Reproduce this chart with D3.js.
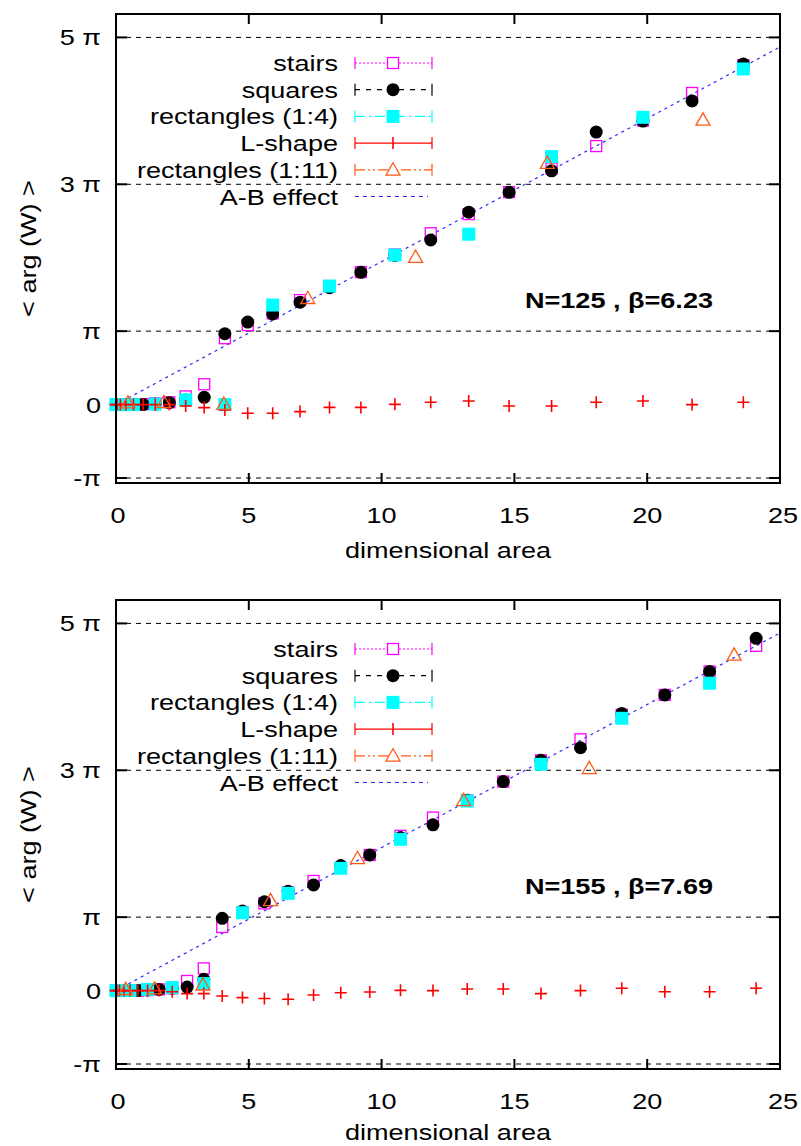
<!DOCTYPE html>
<html><head><meta charset="utf-8">
<script src="https://cdn.jsdelivr.net/npm/d3@7"></script>
<style>body{margin:0;background:#fff}</style>
</head><body>
<svg id="c" width="801" height="1146"></svg>
<script>
// ---------- data: panel 1 (N=125, beta=6.23) ----------
const p1_n_x = [0,0.041,0.164,0.369,0.656,1.025,1.476,2.009,2.624,3.321,4.10,4.96,5.90,6.93,8.04,9.22,10.50,11.85,13.28,14.80,16.40,18.08,19.84,21.69,23.62];
const p1_stairs = [0,0,0,0,0,0.02,0.05,0.10,0.35,0.87,2.84,3.40,3.90,4.47,5.07,5.67,6.42,7.33,8.15,9.09,10.10,11.06,12.15,13.33,14.52];
const p1_squares = [0,0,0,0,0,0,0.02,0.08,0.20,0.31,3.03,3.53,3.88,4.38,5.00,5.66,6.38,7.04,8.23,9.08,10.00,11.66,12.13,12.99,14.57];
const p1_rect4_x = [0,0.164,0.656,1.476,2.624,4.10,5.90,8.04,10.50,13.28,16.40,19.84,23.62];
const p1_rect4 = [0,0,0,0.02,0.20,0,4.26,5.07,6.40,7.29,10.61,12.29,14.36];
const p1_lshape = [0,0,0,0,0,0,0,0,-0.06,-0.13,-0.23,-0.37,-0.37,-0.30,-0.12,-0.12,0.01,0.10,0.15,-0.06,-0.06,0.10,0.15,0,0.10];
const p1_rect11_x = [0.451,1.804,4.06,7.22,11.28,16.24,22.10];
const p1_rect11 = [0.08,0.10,0.02,4.55,6.31,10.33,12.18];
const p1_label = "N=125 , β=6.23";

// ---------- data: panel 2 (N=155, beta=7.69) ----------
const p2_n_x = [0,0.033,0.132,0.298,0.529,0.827,1.19,1.62,2.116,2.678,3.306,4.00,4.761,5.587,6.48,7.439,8.463,9.554,10.711,11.934,13.224,14.58,16.00,17.488,19.043,20.663,22.349,24.101];
const p2_stairs = [0,0,0,0,0,0,0.02,0.05,0.10,0.41,0.95,2.72,3.35,3.73,4.20,4.69,5.25,5.80,6.62,7.40,8.14,8.94,9.85,10.75,11.80,12.65,13.65,14.75];
const p2_squares = [0,0,0,0,0,0,0.03,0.05,0.10,0.15,0.48,3.09,3.40,3.80,4.25,4.52,5.35,5.80,6.55,7.09,8.14,8.94,9.85,10.39,11.85,12.65,13.65,15.07];
const p2_rect4_x = [0,0.132,0.529,1.19,2.116,3.306,4.761,6.48,8.463,10.711,13.224,16.00,19.043,22.349];
const p2_rect4 = [0,0,0,0.05,0.13,0.30,3.33,4.16,5.23,6.47,8.11,9.68,11.65,13.15];
const p2_lshape = [0,0,0,0,0,0,0,0,-0.05,-0.13,-0.13,-0.23,-0.30,-0.34,-0.37,-0.19,-0.09,-0.06,0.01,0,0.07,0.07,-0.13,0,0.10,-0.05,-0.05,0.10];
const p2_rect11_x = [0.364,1.455,3.273,5.818,9.091,13.091,17.818,23.273];
const p2_rect11 = [0.05,0.08,0.25,3.86,5.66,8.14,9.51,14.36];
const p2_label = "N=155 , β=7.69";

// A-B effect slope (phase per unit area)
const abSlope = 0.612;

// axes / legend text
const xTicks = [0,5,10,15,20,25];
const yTickVals = [-Math.PI, 0, Math.PI, 3*Math.PI, 5*Math.PI];
const yTickLabels = ["-π","0","π","3 π","5 π"];
const yGridVals = [-Math.PI, Math.PI, 3*Math.PI, 5*Math.PI];
const legendNames = ["stairs","squares","rectangles (1:4)","L-shape","rectangles (1:11)","A-B effect"];
const xTitle = "dimensional  area";
const yTitle = "< arg (W) >";

const svg = d3.select("#c");
const FONT = "Liberation Sans, Arial, sans-serif";
const STRETCH = 1.23;
const col = {stairs:"#ff00ff", squares:"#000000", rect4:"#00ffff", lshape:"#ff0000", rect11:"#ff5a14", ab:"#2a2aff"};

const x = d3.scaleLinear().domain([0,25]).range([116,780]);
const y = d3.scaleLinear().domain([-3.355,16.71]).range([483,14]);

function zip(xs, ys){ return xs.map((v,i)=>[v, ys[i]]); }

// horizontally stretched text (reference glyphs are wide)
function txt(g, X, Y, str, anchor, opt={}){
  const t = g.append("g")
    .attr("transform", `translate(${X},${Y})${opt.rot?" rotate(-90)":""} scale(${STRETCH},1)`)
    .append("text").attr("x",0).attr("y",0).attr("text-anchor",anchor)
    .attr("font-family",FONT).attr("font-size",opt.size||22).text(str);
  if(opt.bold) t.attr("font-weight","bold");
  return t;
}

function drawPanel(offY, d){
  const g = svg.append("g").attr("transform", `translate(0,${offY})`);
  // grid
  g.selectAll(".grid").data(yGridVals).enter().append("line")
    .attr("x1", x(0)).attr("x2", x(25)).attr("y1", v=>y(v)).attr("y2", v=>y(v))
    .attr("stroke","#000").attr("stroke-width",1).attr("stroke-dasharray","5,5");
  // A-B line
  const ab = d3.line().x(p=>x(p[0])).y(p=>y(p[1]));
  g.append("path").attr("d", ab([[0,0],[25,25*abSlope]]))
    .attr("fill","none").attr("stroke",col.ab).attr("stroke-width",1.2).attr("stroke-dasharray","3,4");

  const S = 11;
  g.selectAll(".st").data(zip(d.nx, d.stairs)).enter().append("rect")
    .attr("x",p=>x(p[0])-S/2).attr("y",p=>y(p[1])-S/2).attr("width",S).attr("height",S)
    .attr("fill","none").attr("stroke",col.stairs).attr("stroke-width",1.3);
  g.selectAll(".sq").data(zip(d.nx, d.squares)).enter().append("circle")
    .attr("cx",p=>x(p[0])).attr("cy",p=>y(p[1])).attr("r",6.5).attr("fill",col.squares);
  const C = 13;
  g.selectAll(".r4").data(zip(d.r4x, d.r4)).enter().append("rect")
    .attr("x",p=>x(p[0])-C/2).attr("y",p=>y(p[1])-C/2).attr("width",C).attr("height",C)
    .attr("fill",col.rect4);
  const P = 6;
  g.selectAll(".lh").data(zip(d.nx, d.lshape)).enter().append("path")
    .attr("d",p=>`M${x(p[0])-P},${y(p[1])}H${x(p[0])+P}M${x(p[0])},${y(p[1])-P}V${y(p[1])+P}`)
    .attr("stroke",col.lshape).attr("stroke-width",1.6).attr("fill","none");
  const T = 7;
  g.selectAll(".r11").data(zip(d.r11x, d.r11)).enter().append("path")
    .attr("d",p=>{const cx=x(p[0]), cy=y(p[1]); return `M${cx},${cy-T}L${cx+T},${cy+T*0.75}L${cx-T},${cy+T*0.75}Z`;})
    .attr("fill","none").attr("stroke",col.rect11).attr("stroke-width",1.3);

  // frame
  g.append("rect").attr("x",x(0)).attr("y",y.range()[1]).attr("width",x(25)-x(0)).attr("height",y.range()[0]-y.range()[1])
    .attr("fill","none").attr("stroke","#000").attr("stroke-width",2);
  [5,10,15,20].forEach(v=>{
    g.append("line").attr("x1",x(v)).attr("x2",x(v)).attr("y1",y.range()[0]).attr("y2",y.range()[0]-10).attr("stroke","#000").attr("stroke-width",2);
    g.append("line").attr("x1",x(v)).attr("x2",x(v)).attr("y1",y.range()[1]).attr("y2",y.range()[1]+10).attr("stroke","#000").attr("stroke-width",2);
  });
  yGridVals.forEach(v=>{
    g.append("line").attr("x1",x(0)).attr("x2",x(0)+11).attr("y1",y(v)).attr("y2",y(v)).attr("stroke","#000").attr("stroke-width",2);
    g.append("line").attr("x1",x(25)).attr("x2",x(25)-11).attr("y1",y(v)).attr("y2",y(v)).attr("stroke","#000").attr("stroke-width",2);
  });
  // tick labels
  xTicks.forEach(v=> txt(g, x(v)+(v===0?2:(v===25?3:0)), y.range()[0]+40, String(v), "middle"));
  yTickVals.forEach((v,i)=> txt(g, 101, y(v)+8, yTickLabels[i], "end"));
  // axis titles
  txt(g, 448, y.range()[0]+d.xtOff, xTitle, "middle");
  txt(g, 36, (y.range()[0]+y.range()[1])/2, yTitle, "middle", {rot:true});
  // annotation
  txt(g, 713, 308, d.label, "end", {bold:true});

  // legend
  const ly0 = 63, ldy = 26.7, lx1 = 355, lx2 = 432, lxm = 393;
  const styles = [
    {c:col.stairs, dash:"2,2", m:"osq"},
    {c:col.squares, dash:"5,6", m:"circ"},
    {c:col.rect4, dash:"10,4,2,4", m:"fsq"},
    {c:col.lshape, dash:null, m:"plus"},
    {c:col.rect11, dash:"10,3,2,3,2,3", m:"tri"},
    {c:col.ab, dash:"4,4", m:null}
  ];
  legendNames.forEach((name,i)=>{
    const ly = ly0 + i*ldy;
    txt(g, 338, ly+8, name, "end");
    const s = styles[i];
    const line = g.append("line").attr("x1",lx1).attr("x2",s.m?lx2:428).attr("y1",ly).attr("y2",ly)
      .attr("stroke",s.c).attr("stroke-width",1.2);
    if(s.dash) line.attr("stroke-dasharray",s.dash);
    if(s.m){
      [lx1,lx2].forEach(xx=>g.append("line").attr("x1",xx).attr("x2",xx).attr("y1",ly-6).attr("y2",ly+6).attr("stroke",s.c).attr("stroke-width",1.2));
      if(s.m==="osq") g.append("rect").attr("x",lxm-S/2).attr("y",ly-S/2).attr("width",S).attr("height",S).attr("fill","#fff").attr("stroke",s.c).attr("stroke-width",1.3);
      if(s.m==="circ") g.append("circle").attr("cx",lxm).attr("cy",ly).attr("r",6.5).attr("fill",s.c);
      if(s.m==="fsq") g.append("rect").attr("x",lxm-C/2).attr("y",ly-C/2).attr("width",C).attr("height",C).attr("fill",s.c);
      if(s.m==="plus") g.append("path").attr("d",`M${lxm},${ly-P}V${ly+P}`).attr("stroke",s.c).attr("stroke-width",1.6);
      if(s.m==="tri") g.append("path").attr("d",`M${lxm},${ly-T}L${lxm+T},${ly+T*0.75}L${lxm-T},${ly+T*0.75}Z`).attr("fill","#fff").attr("stroke",s.c).attr("stroke-width",1.3);
    }
  });
}

drawPanel(0, {nx:p1_n_x, stairs:p1_stairs, squares:p1_squares, r4x:p1_rect4_x, r4:p1_rect4, lshape:p1_lshape, r11x:p1_rect11_x, r11:p1_rect11, label:p1_label, xtOff:75});
drawPanel(586, {nx:p2_n_x, stairs:p2_stairs, squares:p2_squares, r4x:p2_rect4_x, r4:p2_rect4, lshape:p2_lshape, r11x:p2_rect11_x, r11:p2_rect11, label:p2_label, xtOff:71});
</script>
</body></html>
